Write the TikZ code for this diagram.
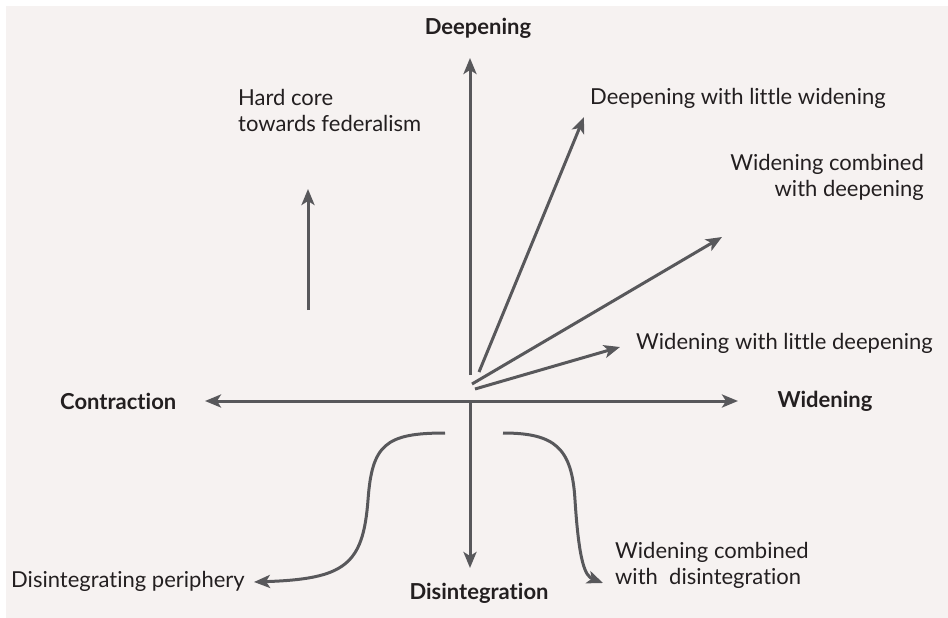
\documentclass[tikz,border=0pt]{standalone}
\usepackage{fontspec}
\setmainfont{Lato}[Ligatures=CommonOff]
\usetikzlibrary{arrows.meta}
\definecolor{panel}{HTML}{F6F2F1}
\definecolor{axisgray}{HTML}{58585B}
\definecolor{ink}{HTML}{231F20}
\tikzset{
  >={Stealth[length=16pt,width=13pt,inset=4pt]},
  arr/.style={draw=axisgray, line width=3pt},
  txt/.style={text=ink, inner sep=0pt, align=left, font=\fontsize{22}{26}\selectfont},
  heading/.style={txt, font=\bfseries\fontsize{22}{26}\selectfont}
}
\begin{document}
\begin{tikzpicture}[x=1pt, y=-1pt]
            \useasboundingbox (0,0) rectangle (948,618);
            \fill[panel] (6,6) rectangle (948,618);
            % axes
            \coordinate (O) at (470,401);
            \coordinate (N) at (470,58);
            \coordinate (S) at (470,568);
            \coordinate (W) at (205,401);
            \coordinate (E) at (738,401);
            \coordinate (Nbase) at (470,375);
            \node[heading] (deep) at (478,28) {Deepening};
            \node[heading] (disint) at (479,593) {Disintegration};
            \node[heading, anchor=west] (contr) at (60,401) {Contraction};
            \node[heading] (widen) at (825,401) {Widening};
            \draw[arr, <->] (W) -- (E);
            \draw[arr, ->] (Nbase) -- (N);
            \draw[arr, ->] (O) -- (S);
            % fan of paths
            \coordinate (f1) at (479,372);
            \coordinate (t1) at (584,117);
            \coordinate (f2) at (472,384);
            \coordinate (t2) at (722,237);
            \coordinate (f3) at (475,389);
            \coordinate (t3) at (620,347);
            \draw[arr, ->] (f1) -- (t1);
            \draw[arr, ->] (f2) -- (t2);
            \draw[arr, ->] (f3) -- (t3);
            \node[txt, anchor=west] (dlw) at (590,98) {Deepening with little widening};
            \node[txt, anchor=east, align=right] (wcd) at (924,177) {Widening combined\\with deepening};
            \node[txt, anchor=west] (wld) at (636,343) {Widening with little deepening};
            % hard core
            \coordinate (h1) at (308,310);
            \coordinate (h2) at (308,189);
            \draw[arr, ->] (h1) -- (h2);
            \node[txt, anchor=west] (hard) at (238,110) {Hard core\\towards federalism};
            % lower curves
            \coordinate (l1) at (445,433);
            \coordinate (l2) at (254,582);
            \coordinate (r1) at (503,433);
            \coordinate (r2) at (603,583);
            \draw[arr, ->] (l1) .. controls (385,433) and (372,445) .. (368,500)
                               .. controls (363,565) and (345,579) .. (l2);
            \draw[arr, ->] (r1) .. controls (555,433) and (572,448) .. (575,500)
                               .. controls (579,562) and (585,576) .. (r2);
            \node[txt, anchor=west] (periph) at (11,581) {Disintegrating periphery};
            \node[txt, anchor=west] (wdi) at (615,565) {Widening combined\\with\ \ disintegration};
        \end{tikzpicture}
\end{document}
